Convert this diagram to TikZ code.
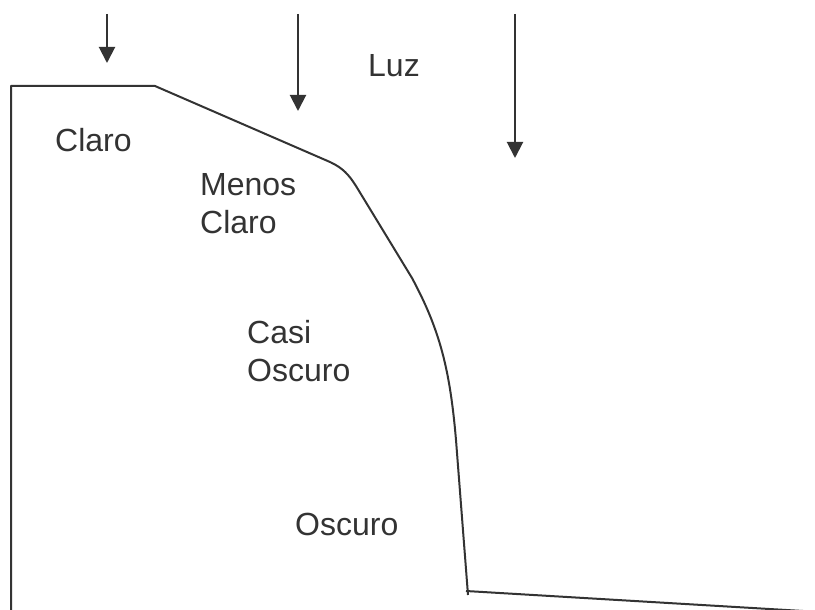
\documentclass[tikz,border=0pt]{standalone}
\usepackage{fontspec}
\setmainfont{Liberation Sans}
\usetikzlibrary{arrows.meta}
\definecolor{ink}{HTML}{333333}

\begin{document}
\begin{tikzpicture}[
  x=1pt, y=-1pt,
  ray/.style={draw=ink, line width=2pt, -{Triangle[width=16pt,length=16pt]}},
  edge/.style={draw=ink, line width=2pt, line join=round},
  lbl/.style={anchor=base west, inner sep=0pt, text=ink, align=left, font=\fontsize{32}{37.5}\selectfont}
]
  \useasboundingbox (0,0) rectangle (815,610);
  % Luz
  \coordinate (r1s) at (107,14);  \coordinate (r1e) at (107,63);
  \coordinate (r2s) at (298,14);  \coordinate (r2e) at (298,111);
  \coordinate (r3s) at (515,14);  \coordinate (r3e) at (515,158);
  \draw[ray] (r1s) -- (r1e);
  \draw[ray] (r2s) -- (r2e);
  \draw[ray] (r3s) -- (r3e);
  \node[lbl] (luz) at (368,77) {Luz};
  % outline
  \draw[edge] (11,612) -- (11,86) -- (155,86) -- (330,162)
    .. controls (343,168) and (349,175) .. (356,186)
    -- (412,278)
    .. controls (440,330) and (450,370) .. (456,440)
    -- (468,595);
  \draw[edge] (466,591) -- (820,612);
  % zones
  \node[lbl] (claro) at (55,152) {Claro};
  \node[lbl] (menos) at (200,233) {Menos\\Claro};
  \node[lbl] (casi) at (247,381) {Casi\\Oscuro};
  \node[lbl] (oscuro) at (295,535) {Oscuro};
\end{tikzpicture}
\end{document}
